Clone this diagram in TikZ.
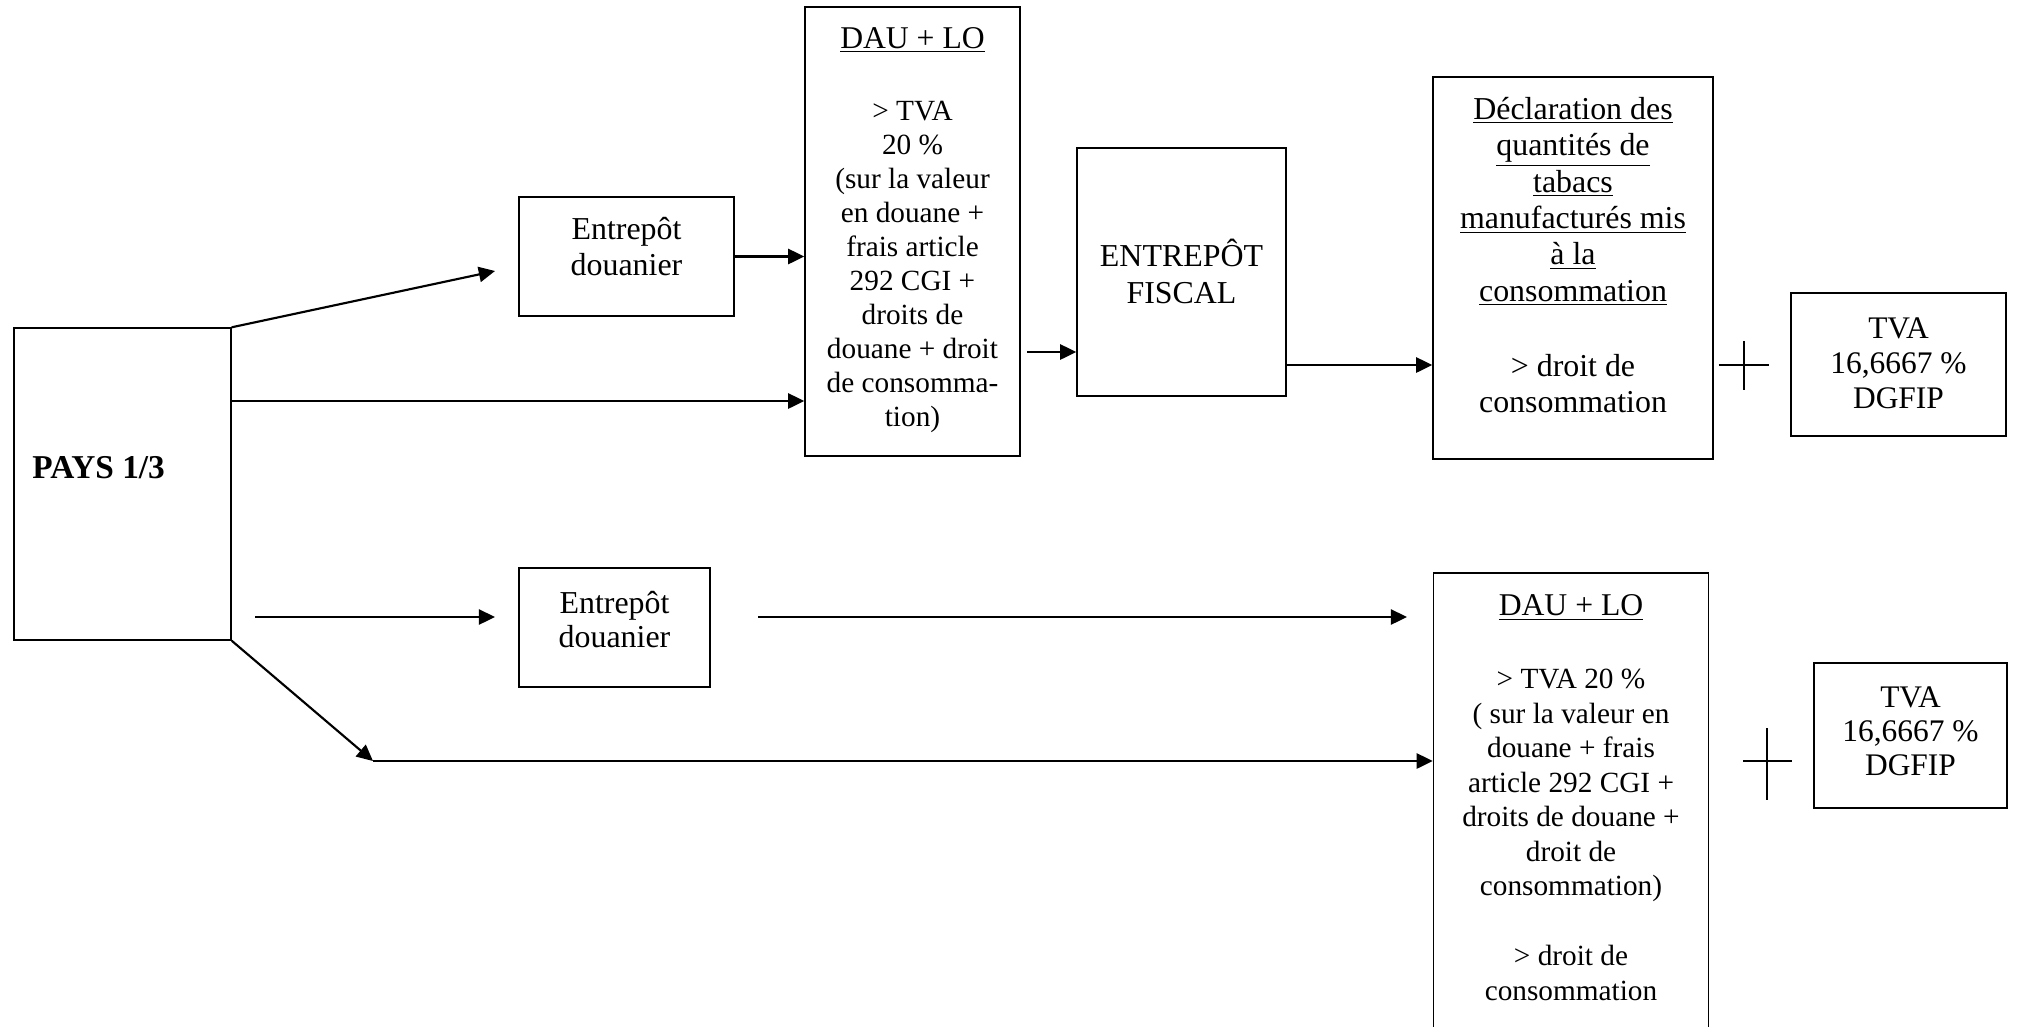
\documentclass[tikz,border=0pt]{standalone}
\usepackage{fontspec}
\setmainfont{Liberation Serif}
\usetikzlibrary{arrows.meta}
\def\PX{0.42pt}
\newcommand{\headfont}{\fontsize{13.3}{14.3}\selectfont}
\begin{document}
\begin{tikzpicture}[x=0.42pt,y=-0.42pt,
  box/.style={draw, line width=0.6pt, inner sep=0pt},
  txt/.style={inner sep=0pt, align=center, font=\fontsize{12.3}{14.3}\selectfont},
  bigtxt/.style={txt, font=\fontsize{13.4}{15.3}\selectfont},
  arr/.style={line width=0.9pt, -{Triangle[length=6.8pt,width=6.4pt]}},
  plusline/.style={line width=0.55pt}]
\useasboundingbox (0,0) rectangle (2018,1026);
\clip (0,0) rectangle (2018,1026);

% boxes
\node[box, minimum width={217*\PX}, minimum height={312*\PX}] (pays) at (122.5,484) {};
\node[box, minimum width={215*\PX}, minimum height={119*\PX}] (ed1) at (626.5,256.5) {};
\node[box, minimum width={215*\PX}, minimum height={449*\PX}] (dau1) at (912.5,231.5) {};
\node[box, minimum width={209*\PX}, minimum height={248*\PX}] (fisc) at (1181.5,272) {};
\node[box, minimum width={280*\PX}, minimum height={382*\PX}] (decl) at (1573,268) {};
\node[box, minimum width={215*\PX}, minimum height={143*\PX}] (tva1) at (1898.5,364.5) {};
\node[box, minimum width={191*\PX}, minimum height={119*\PX}] (ed2) at (614.5,627.5) {};
\node[box, minimum width={275*\PX}, minimum height={487*\PX}] (dau2) at (1571,816.5) {};
\node[box, minimum width={193*\PX}, minimum height={145*\PX}] (tva2) at (1910.5,735.5) {};

% texts
\node[txt, anchor=west, font=\fontsize{14}{15}\selectfont\bfseries] (payst) at (32,468) {PAYS 1/3};
\node[bigtxt] (ed1t) at (626.5,246.5) {Entrepôt\\douanier};
\node[txt] (dau1t) at (912.5,230) {\underline{\headfont DAU + LO}\\[16pt]
  > TVA\\20 \%\\(sur la valeur\\en douane +\\frais article\\292 CGI +\\droits de\\douane + droit\\de consomma-\\tion)};
\node[bigtxt] (fisct) at (1181.5,271.5) {ENTREPÔT\\FISCAL};
\node[bigtxt] (declt) at (1573,255) {\underline{Déclaration des}\\\underline{quantités de}\\\underline{tabacs}\\\underline{manufacturés mis}\\\underline{à la}\\\underline{consommation}\\[16.2pt]
  > droit de\\consommation};
\node[bigtxt, font=\fontsize{13.2}{14.6}\selectfont] (tva1t) at (1898.5,363.5) {TVA\\16,6667 \%\\DGFIP};
\node[bigtxt, font=\fontsize{13.4}{14.6}\selectfont] (ed2t) at (614.5,619.5) {Entrepôt\\douanier};
\node[txt, font=\fontsize{12.3}{14.5}\selectfont] (dau2t) at (1571,797.5) {\underline{\headfont DAU + LO}\\[16.2pt]
  > TVA 20 \%\\( sur la valeur en\\douane + frais\\article 292 CGI +\\droits de douane +\\droit de\\consommation)\\[14.9pt]
  > droit de\\consommation};
\node[bigtxt, font=\fontsize{13.2}{14.3}\selectfont] (tva2t) at (1910.5,731.5) {TVA\\16,6667 \%\\DGFIP};

% connector coordinates
\coordinate (a1) at (495,271);
\coordinate (p2) at (231,401);
\coordinate (d1o) at (1027,352);
\coordinate (fo) at (1286,365);
\coordinate (b1s) at (255,617);
\coordinate (b1e) at (495,617);
\coordinate (b2s) at (758,617);
\coordinate (b2e) at (1407,617);
\coordinate (c1) at (373,761);
\coordinate (pl1l) at (1718.5,365);
\coordinate (pl1r) at (1768.5,365);
\coordinate (pl1t) at (1744,341);
\coordinate (pl1b) at (1744,390);
\coordinate (pl2l) at (1743,761);
\coordinate (pl2r) at (1792,761);
\coordinate (pl2t) at (1767,728);
\coordinate (pl2b) at (1767,800);

% connectors
\draw[arr] (pays.north east) -- (a1);
\draw[arr] (ed1.east) -- (ed1.east -| dau1.west);
\draw[arr] (p2) -- (p2 -| dau1.west);
\draw[arr] (d1o) -- (d1o -| fisc.west);
\draw[arr] (fo) -- (fo -| decl.west);
\draw[arr] (b1s) -- (b1e);
\draw[arr] (b2s) -- (b2e);
\draw[arr] (pays.south east) -- (c1);
\draw[arr] (c1) -- (c1 -| dau2.west);

% plus signs
\draw[plusline] (pl1l) -- (pl1r) (pl1t) -- (pl1b);
\draw[plusline] (pl2l) -- (pl2r) (pl2t) -- (pl2b);
\end{tikzpicture}
\end{document}
